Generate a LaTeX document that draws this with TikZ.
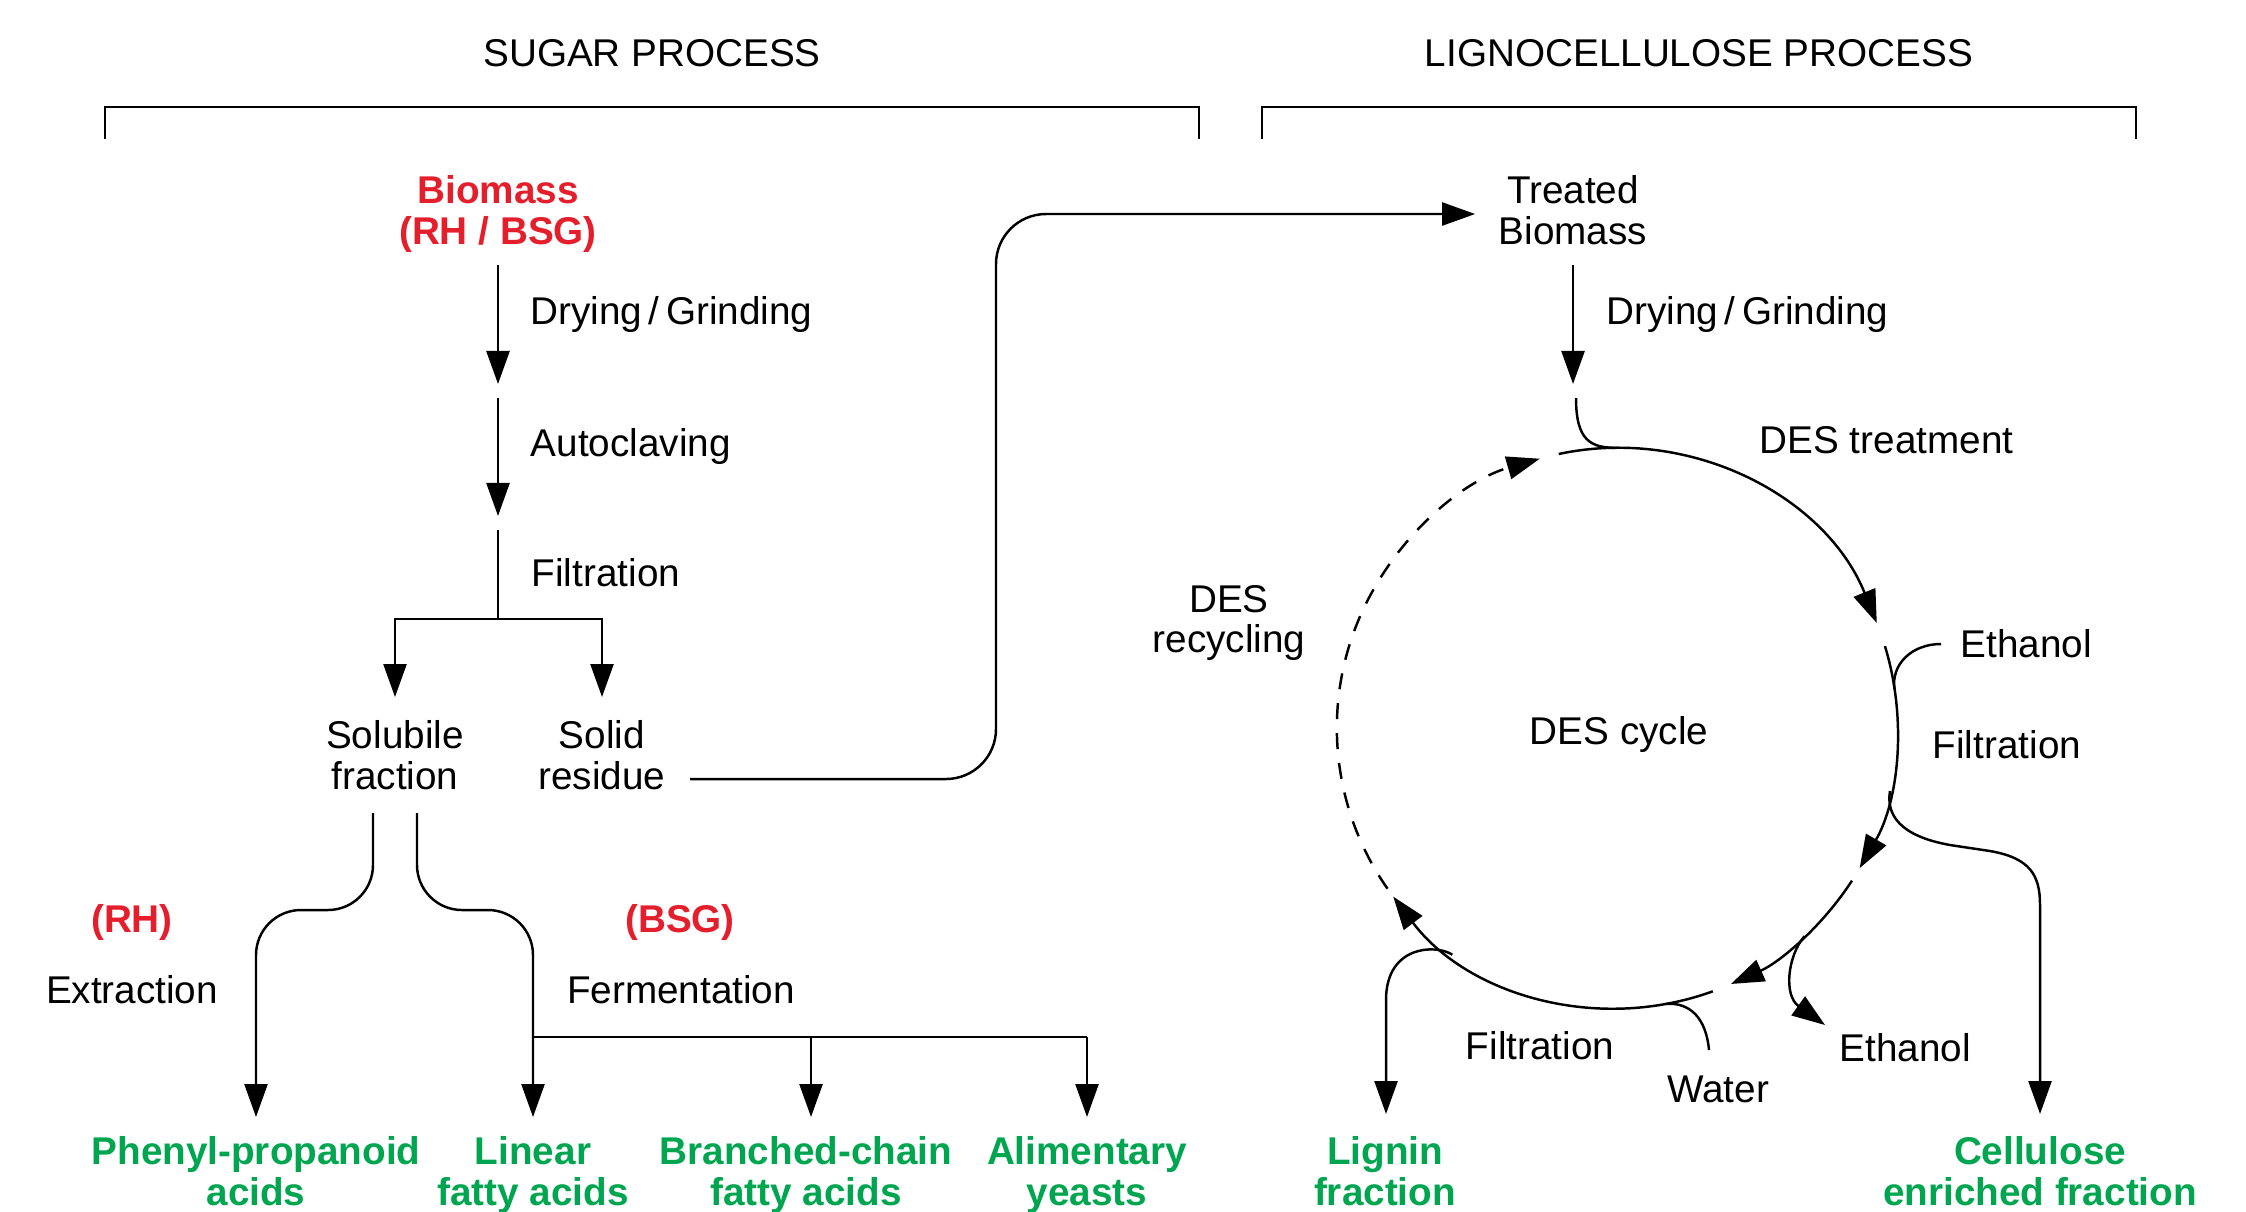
\documentclass[tikz,border=0pt]{standalone}
\usepackage{fontspec}
\setmainfont{Liberation Sans}
\usetikzlibrary{arrows.meta,calc}
\definecolor{bioRed}{RGB}{228,30,43}
\definecolor{prodGreen}{RGB}{0,165,80}
\tikzset{
  lbl/.style={inner sep=0pt,align=center,font=\fontsize{11}{11.6}\selectfont},
  src/.style={lbl,text=bioRed,font=\fontsize{11}{11.6}\selectfont\bfseries},
  prod/.style={lbl,anchor=north,text=prodGreen,font=\fontsize{11}{11.6}\selectfont\bfseries},
  pipe/.style={line width=0.7pt},
  flow/.style={pipe,-{Triangle[length=0.33cm,width=0.23cm]}},
}
\begin{document}
\begin{tikzpicture}[x=0.01cm,y=-0.01cm]
\useasboundingbox (0,0) rectangle (2246,1211);
% headings
\node[lbl] (sugar) at (652,53) {SUGAR PROCESS};
\node[lbl] (ligno) at (1699,53) {LIGNOCELLULOSE PROCESS};
\draw[pipe] (105,139) |- (1199,107) -- (1199,139);
\draw[pipe] (1262,139) |- (2136,107) -- (2136,139);
% sugar process
\node[src] (biomass) at (498,214) {Biomass\\(RH / BSG)};
\node[lbl,anchor=west] (dry1) at (530,314) {Drying\,/\,Grinding};
\node[lbl,anchor=west] (auto) at (530,446) {Autoclaving};
\node[lbl,anchor=west] (filt1) at (531,573) {Filtration};
\node[lbl] (sol) at (395,755) {Solubile\\fraction};
\node[lbl] (res) at (602,755) {Solid\\residue};
\coordinate (fork) at (498,619);
\draw[flow] (498,265) -- (498,384);
\draw[flow] (498,398) -- (498,516);
\draw[pipe] (498,530) -- (fork);
\draw[flow] (fork) -| (395,697);
\draw[flow] (fork) -| (602,697);
\node[src] (rh) at (132,922) {(RH)};
\node[lbl] (extr) at (132,990) {Extraction};
\node[src] (bsg) at (680,922) {(BSG)};
\node[lbl] (ferm) at (681,990) {Fermentation};
\node[prod] (phenyl) at (256,1136) {Phenyl-propanoid\\acids};
\node[prod] (linear) at (533,1136) {Linear\\fatty acids};
\node[prod] (branched) at (806,1136) {Branched-chain\\fatty acids};
\node[prod] (yeast) at (1087,1136) {Alimentary\\yeasts};
\draw[flow,rounded corners=0.45cm] (373,813) |- (256,910) -- (256,1117);
\draw[flow,rounded corners=0.45cm] (417,813) |- (533,910) -- (533,1117);
\draw[pipe] (533,1037) -- (1087,1037);
\draw[flow] (811,1037) -- (811,1117);
\draw[flow] (1087,1037) -- (1087,1117);
% residue goes on to the DES line
\node[lbl] (treated) at (1573,210) {Treated\\Biomass};
\draw[flow,rounded corners=0.5cm] ($(res.east)+(24,24)$) -- (996,779) |- ([xshift=-0.23cm,yshift=-0.04cm]treated.west);
% lignocellulose process
\node[lbl,anchor=west] (dry2) at (1606,314) {Drying\,/\,Grinding};
\node[lbl,anchor=west] (destreat) at (1759,440) {DES treatment};
\node[lbl] (desrec) at (1229,623) {DES\\recycling};
\node[lbl] (cycle) at (1619,734) {DES cycle};
\node[lbl,anchor=west] (eth1) at (1960,644) {Ethanol};
\node[lbl,anchor=west] (filt2) at (1932,745) {Filtration};
\node[lbl,anchor=west] (eth2) at (1839,1048) {Ethanol};
\node[lbl] (filt3) at (1540,1046) {Filtration};
\node[lbl] (water) at (1718,1089) {Water};
\node[prod] (lignin) at (1385,1136) {Lignin\\fraction};
\node[prod] (cellulose) at (2040,1136) {Cellulose\\enriched fraction};
\coordinate (cc) at (1617,728);
\draw[flow] (1573,265) -- (1573,384);
\draw[pipe] (1576,398) .. controls (1576,440) and (1590,448) .. ($(cc)+(90:2.8cm)$);
\draw[flow] ($(cc)+(102:2.8cm)$) arc[start angle=102,end angle=22,radius=2.8cm];
\draw[flow] ($(cc)+(17:2.8cm)$) arc[start angle=17,end angle=-30,radius=2.8cm];
\draw[flow] ($(cc)+(-33:2.8cm)$) arc[start angle=-33,end angle=-66,radius=2.8cm];
\draw[flow] ($(cc)+(-70:2.8cm)$) arc[start angle=-70,end angle=-143,radius=2.8cm];
\draw[flow,dash pattern=on 0.16cm off 0.14cm] ($(cc)+(215:2.8cm)$) arc[start angle=215,end angle=106,radius=2.8cm];
\draw[pipe] ([xshift=-0.19cm]eth1.west) .. controls +(-30,0) and (1891,665) .. ($(cc)+(8:2.8cm)$);
\draw[flow] ($(cc)+(-13:2.8cm)$) .. controls (1886,815) and (1900,836) .. (1950,845) -- (1990,851) .. controls (2030,858) and (2040,875) .. (2040,905) -- (2040,1114);
\draw[flow] ($(cc)+(-48:2.8cm)$) .. controls (1788,955) and (1783,995) .. (1825,1025);
\draw[pipe] (1709,1050) .. controls (1706,1018) and (1690,1002) .. ($(cc)+(-80:2.8cm)$);
\draw[flow] ($(cc)+(-126:2.8cm)$) .. controls (1436,944) and (1386,945) .. (1386,1000) -- (1386,1114);
\end{tikzpicture}
\end{document}
